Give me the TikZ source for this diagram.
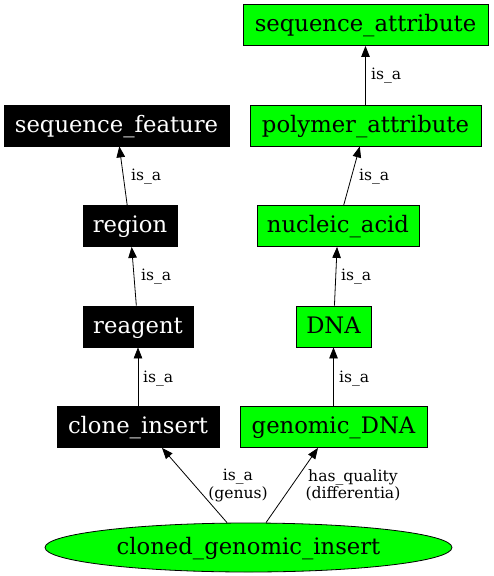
\documentclass[tikz,border=0pt]{standalone}
\usepackage{fontspec}
\setmainfont{DejaVu Serif}
\usetikzlibrary{arrows.meta,shapes.geometric}
\definecolor{gvgreen}{HTML}{00FF00}
\tikzset{
  base/.style={draw=black, line width=0.8pt, inner xsep=0pt, inner ysep=0pt,
    minimum height=41pt, text height=17pt, text depth=3.4pt,
    font=\fontsize{22.7}{27}\selectfont},
  gbox/.style={base, rectangle, fill=gvgreen, text=black},
  bbox/.style={base, rectangle, fill=black, text=white},
  gell/.style={base, ellipse, fill=gvgreen, text=black, minimum width=407pt, minimum height=49pt},
  edge/.style={draw=black, line width=0.8pt, -{Triangle[length=11pt,width=8.5pt]}},
  elab/.style={inner sep=0pt, font=\fontsize{15.6}{17.5}\selectfont},
}
\begin{document}
\begin{tikzpicture}[x=1pt,y=-1pt]
\useasboundingbox (0,0) rectangle (493,576);
% nodes
\node[gbox, minimum width=245pt] (sa) at (365.5,25) {sequence\_attribute};
\node[bbox, minimum width=225pt] (sf) at (116.5,125.5) {sequence\_feature};
\node[gbox, minimum width=231pt] (pa) at (365.5,125.5) {polymer\_attribute};
\node[bbox, minimum width=94pt] (rg) at (130,226) {region};
\node[gbox, minimum width=162pt] (na) at (338,226) {nucleic\_acid};
\node[bbox, minimum width=110pt] (re) at (138,326.5) {reagent};
\node[gbox, minimum width=75pt] (dna) at (333.5,326.5) {DNA};
\node[bbox, minimum width=162pt] (ci) at (138,427) {clone\_insert};
\node[gbox, minimum width=187pt] (gd) at (333.5,427) {genomic\_DNA};
\node[gell] (cgi) at (248.5,547.5) {cloned\_genomic\_insert};
% edges
\draw[edge] (pa) -- (sa);
\draw[edge] (rg) -- (sf);
\draw[edge] (na) -- (pa);
\draw[edge] (re) -- (rg);
\draw[edge] (dna) -- (na);
\draw[edge] (ci.north -| re) -- (re);
\draw[edge] (gd.north -| dna) -- (dna);
\draw[edge] ([xshift=-21.5pt]cgi.north) -- ([xshift=24pt]ci.south);
\draw[edge] ([xshift=17.5pt]cgi.north) -- ([xshift=-15.5pt]gd.south);
% edge labels
\node[elab, anchor=base west] (l1) at (371,79) {is\_a};
\node[elab, anchor=base west] (l2) at (131,180) {is\_a};
\node[elab, anchor=base west] (l3) at (359,180) {is\_a};
\node[elab, anchor=base west] (l4) at (141,280) {is\_a};
\node[elab, anchor=base west] (l5) at (341,280) {is\_a};
\node[elab, anchor=base west] (l6) at (143,382) {is\_a};
\node[elab, anchor=base west] (l7) at (339,382) {is\_a};
\node[elab, align=center] (l8) at (238,485.5) {is\_a\\(genus)};
\node[elab, align=center] (l9) at (353,485.5) {has\_quality\\(differentia)};
\end{tikzpicture}
\end{document}
